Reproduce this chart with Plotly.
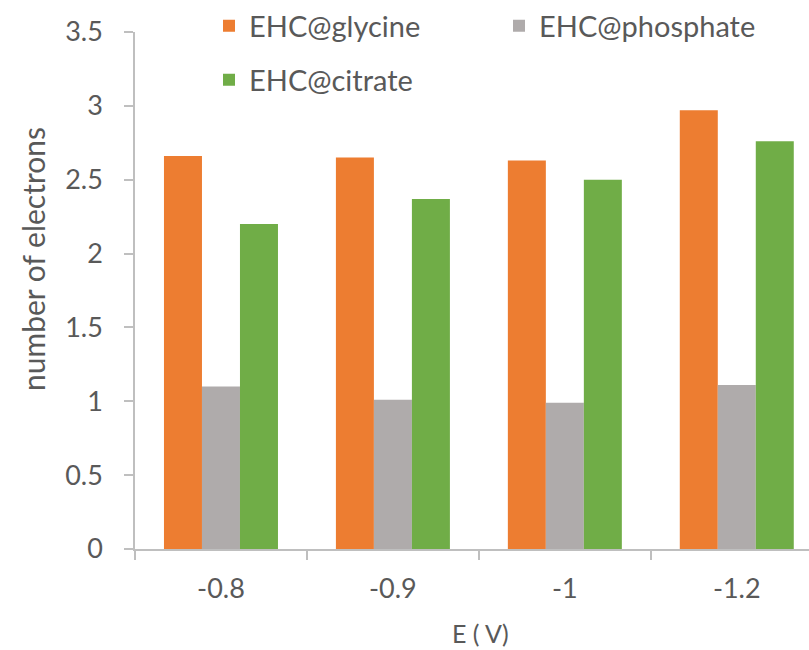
import plotly.graph_objects as go

# Electrode potentials (category labels) and electron counts per electrolyte
potentials = ["-0.8", "-0.9", "-1", "-1.2"]
glycine = [2.66, 2.65, 2.63, 2.97]
phosphate = [1.10, 1.01, 0.99, 1.11]
citrate = [2.20, 2.37, 2.50, 2.76]
y_ticks = [0, 0.5, 1, 1.5, 2, 2.5, 3, 3.5]
y_tick_text = ["0", "0.5", "1", "1.5", "2", "2.5", "3", "3.5"]

FONT = "Lato"
TEXT = "#595959"
AXIS = "#BFBFBF"

# plot area in pixels (used to place the free-standing titles)
PLOT_L, PLOT_W = 135, 674
PLOT_B, PLOT_H = 549, 517
FIG_W, FIG_H = 809, 650

fig = go.Figure()
fig.add_trace(go.Bar(name="EHC@glycine", x=potentials, y=glycine,
                     marker=dict(color="#ED7D31", line=dict(width=0)),
                     legend="legend"))
fig.add_trace(go.Bar(name="EHC@phosphate", x=potentials, y=phosphate,
                     marker=dict(color="#AFABAB", line=dict(width=0)),
                     legend="legend"))
fig.add_trace(go.Bar(name="EHC@citrate", x=potentials, y=citrate,
                     marker=dict(color="#70AD47", line=dict(width=0)),
                     legend="legend2"))

legend_style = dict(
    orientation="h",
    xref="container", yref="container",
    xanchor="left", yanchor="middle",
    font=dict(family=FONT, size=29, color=TEXT),
    bgcolor="rgba(0,0,0,0)",
    entrywidth=245,
    itemclick=False, itemdoubleclick=False,
)

fig.update_layout(
    width=FIG_W, height=FIG_H,
    margin=dict(l=PLOT_L, r=0, t=32, b=101, autoexpand=False),
    paper_bgcolor="white", plot_bgcolor="white",
    barmode="group", bargap=0.337, bargroupgap=0,
    font=dict(family=FONT, color=TEXT),
    legend=dict(x=209 / FIG_W, y=1 - 26 / FIG_H, **legend_style),
    legend2=dict(x=209 / FIG_W, y=1 - 80 / FIG_H, **legend_style),
    xaxis=dict(
        type="category",
        range=[-0.5, 3.42],
        showline=True, linecolor=AXIS, linewidth=1.5,
        ticks="outside", tickson="boundaries", ticklen=9, tickcolor=AXIS, tickwidth=1.5,
        tickfont=dict(family=FONT, size=27, color=TEXT),
        ticklabelstandoff=15,
        showgrid=False, zeroline=False,
    ),
    yaxis=dict(
        range=[0, 3.5],
        tickvals=y_ticks, ticktext=y_tick_text,
        showline=True, linecolor=AXIS, linewidth=1.5,
        ticks="outside", ticklen=9, tickcolor=AXIS, tickwidth=1.5,
        tickfont=dict(family=FONT, size=27, color=TEXT),
        ticklabelstandoff=16,
        showgrid=False, zeroline=False,
    ),
    annotations=[
        dict(text="E ( V)", xref="paper", yref="paper",
             x=(480 - PLOT_L) / PLOT_W, y=-(633 - PLOT_B) / PLOT_H,
             xanchor="center", yanchor="middle", showarrow=False,
             font=dict(family=FONT, size=25, color=TEXT)),
        dict(text="number of electrons", xref="paper", yref="paper",
             x=(33 - PLOT_L) / PLOT_W, y=(PLOT_B - 259) / PLOT_H,
             xanchor="center", yanchor="middle", textangle=-90, showarrow=False,
             font=dict(family=FONT, size=30, color=TEXT)),
    ],
)

fig.write_html("out.html")
